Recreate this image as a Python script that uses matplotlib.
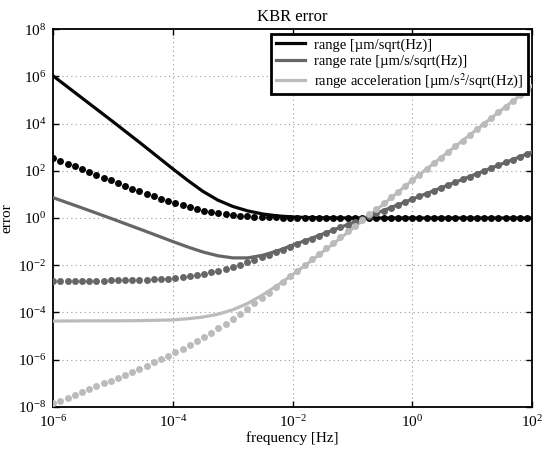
import matplotlib
matplotlib.use("Agg")
import matplotlib.pyplot as plt

plt.rcParams['font.family'] = ['Liberation Serif', 'DejaVu Serif']
plt.rcParams['mathtext.fontset'] = 'stix'

# ---------------- data ----------------
# solid curves (frequency exponent, value)
line_freq_exp = [-6, -5.5, -5, -4.5, -4, -3.75, -3.5, -3.25, -3, -2.75, -2.5,
                 -2.25, -2, -1.75, -1.5, -1.25, -1, -0.5, 0, 1, 2]
range_line = [1.047e6, 1.12e5, 1.20e4, 1.23e3, 120, 38.9, 13.5, 5.75, 3.09, 2.0,
              1.48, 1.23, 1.11, 1.05, 1.026, 1.012, 1.005, 1.0, 1.0, 1.0, 1.0]
rate_line = [7.24, 2.57, 0.891, 0.302, 0.100, 0.0589, 0.0363, 0.0251, 0.0204,
             0.0204, 0.0263, 0.0407, 0.0708, 0.120, 0.209, 0.363, 0.631, 2.0,
             6.31, 63.1, 631]
accel_line = [4.27e-5, 4.37e-5, 4.37e-5, 4.47e-5, 4.79e-5, 5.37e-5, 6.31e-5,
              8.32e-5, 1.29e-4, 2.40e-4, 5.50e-4, 1.41e-3, 3.98e-3, 1.17e-2,
              3.63e-2, 0.112, 0.355, 3.55, 39.8, 3.98e3, 3.98e5]

# dotted series (frequency exponent, value)
dot_freq_exp = [-6.00, -5.88, -5.76, -5.64, -5.52, -5.40, -5.28, -5.16, -5.04,
                -4.92, -4.80, -4.68, -4.56, -4.44, -4.32, -4.20, -4.08, -3.96,
                -3.84, -3.72, -3.60, -3.48, -3.36, -3.24, -3.12, -3.00, -2.88,
                -2.76, -2.64, -2.52, -2.40, -2.28, -2.16, -2.04, -1.92, -1.80,
                -1.68, -1.56, -1.44, -1.32, -1.20, -1.08, -0.96, -0.84, -0.72,
                -0.60, -0.48, -0.36, -0.24, -0.12, 0.00, 0.12, 0.24, 0.36, 0.48,
                0.60, 0.72, 0.84, 0.96, 1.08, 1.20, 1.32, 1.44, 1.56, 1.68, 1.80,
                1.92]
range_dots = [351, 266, 202, 154, 117, 88.9, 67.7, 51.6, 39.4, 30.1, 23.1, 17.8,
              13.7, 10.6, 8.31, 6.55, 5.21, 4.19, 3.42, 2.84, 2.39, 2.06, 1.80,
              1.61, 1.46, 1.35, 1.27, 1.20, 1.15, 1.12, 1.09, 1.07, 1.05, 1.04,
              1.03, 1.02, 1.02, 1.01, 1.01, 1.01, 1.01, 1.0, 1.0, 1.0, 1.0, 1.0,
              1.0, 1.0, 1.0, 1.0, 1.0, 1.0, 1.0, 1.0, 1.0, 1.0, 1.0, 1.0, 1.0,
              1.0, 1.0, 1.0, 1.0, 1.0, 1.0, 1.0, 1.0]
rate_dots = [2.20e-3, 2.21e-3, 2.21e-3, 2.21e-3, 2.22e-3, 2.22e-3, 2.23e-3,
             2.24e-3, 2.25e-3, 2.28e-3, 2.30e-3, 2.33e-3, 2.37e-3, 2.43e-3,
             2.50e-3, 2.59e-3, 2.72e-3, 2.88e-3, 3.10e-3, 3.40e-3, 3.78e-3,
             4.28e-3, 4.94e-3, 5.81e-3, 6.97e-3, 8.47e-3, 1.05e-2, 1.31e-2,
             1.66e-2, 2.12e-2, 2.72e-2, 3.52e-2, 4.56e-2, 5.95e-2, 7.77e-2,
             0.102, 0.133, 0.175, 0.230, 0.303, 0.398, 0.525, 0.691, 0.910,
             1.20, 1.58, 2.08, 2.74, 3.61, 4.76, 6.28, 8.28, 10.9, 14.4, 19.0,
             25.0, 33.0, 43.5, 57.3, 75.5, 99.5, 131, 173, 228, 301, 396, 522]
accel_dots = [1.38e-8, 1.83e-8, 2.41e-8, 3.18e-8, 4.21e-8, 5.56e-8, 7.36e-8,
              9.75e-8, 1.29e-7, 1.72e-7, 2.29e-7, 3.05e-7, 4.10e-7, 5.53e-7,
              7.52e-7, 1.03e-6, 1.42e-6, 1.99e-6, 2.82e-6, 4.06e-6, 5.96e-6,
              8.89e-6, 1.36e-5, 2.10e-5, 3.32e-5, 5.32e-5, 8.67e-5, 1.43e-4,
              2.39e-4, 4.02e-4, 6.80e-4, 1.16e-3, 1.98e-3, 3.41e-3, 5.87e-3,
              1.01e-2, 1.75e-2, 3.03e-2, 5.25e-2, 9.10e-2, 0.158, 0.274, 0.476,
              0.826, 1.44, 2.49, 4.33, 7.52, 13.1, 22.7, 39.4, 68.5, 119, 207,
              360, 625, 1090, 1890, 3280, 5700, 9910, 1.72e4, 2.99e4, 5.20e4,
              9.04e4, 1.57e5, 2.73e5]

labels = ['range [\u00b5m/sqrt(Hz)]',
          'range rate [\u00b5m/s/sqrt(Hz)]',
          'range acceleration [\u00b5m/s$^2$/sqrt(Hz)]']
colors = ['#050505', '#666666', '#bbbbbb']

# ---------------- plot ----------------
fig = plt.figure(figsize=(5.42, 4.49), dpi=100)
ax = fig.add_axes([0.0983, 0.0942, 0.8832, 0.8405])

line_f = [10.0 ** e for e in line_freq_exp]
dot_f = [10.0 ** e for e in dot_freq_exp]

for vals, c, lab in zip([range_line, rate_line, accel_line], colors, labels):
    ax.loglog(line_f, vals, '-', color=c, lw=2.3, label=lab, zorder=3,
              solid_joinstyle='round')
for vals, c in zip([range_dots, rate_dots, accel_dots], colors):
    ax.loglog(dot_f, vals, 'o', color=c, ms=5.0, mec='none', zorder=4)

ax.set_xlim(1e-6, 1e2)
ax.set_ylim(1e-8, 1e8)
ax.set_xticks([1e-6, 1e-4, 1e-2, 1e0, 1e2])
ax.set_yticks([1e-8, 1e-6, 1e-4, 1e-2, 1e0, 1e2, 1e4, 1e6, 1e8])
ax.minorticks_off()
ax.tick_params(which='both', direction='in', top=True, right=True, length=4,
               width=1, labelsize=11, pad=5)
ax.grid(True, which='major', linestyle=(0, (1, 3)), color='#999999', lw=0.8)
for s in ax.spines.values():
    s.set_linewidth(1.3)

ax.set_title('KBR error', fontsize=12, pad=6)
ax.set_xlabel('frequency [Hz]', fontsize=11, labelpad=1)
ax.set_ylabel('error', fontsize=11, labelpad=3)

leg = ax.legend(loc='upper right', fontsize=10.5, frameon=True, fancybox=False,
                edgecolor='black', borderaxespad=0.3, handlelength=2.0,
                labelspacing=0.2, borderpad=0.3, handletextpad=0.6)
leg.get_frame().set_linewidth(2.0)
leg.get_frame().set_alpha(1)

fig.savefig('out.png', dpi=100)
